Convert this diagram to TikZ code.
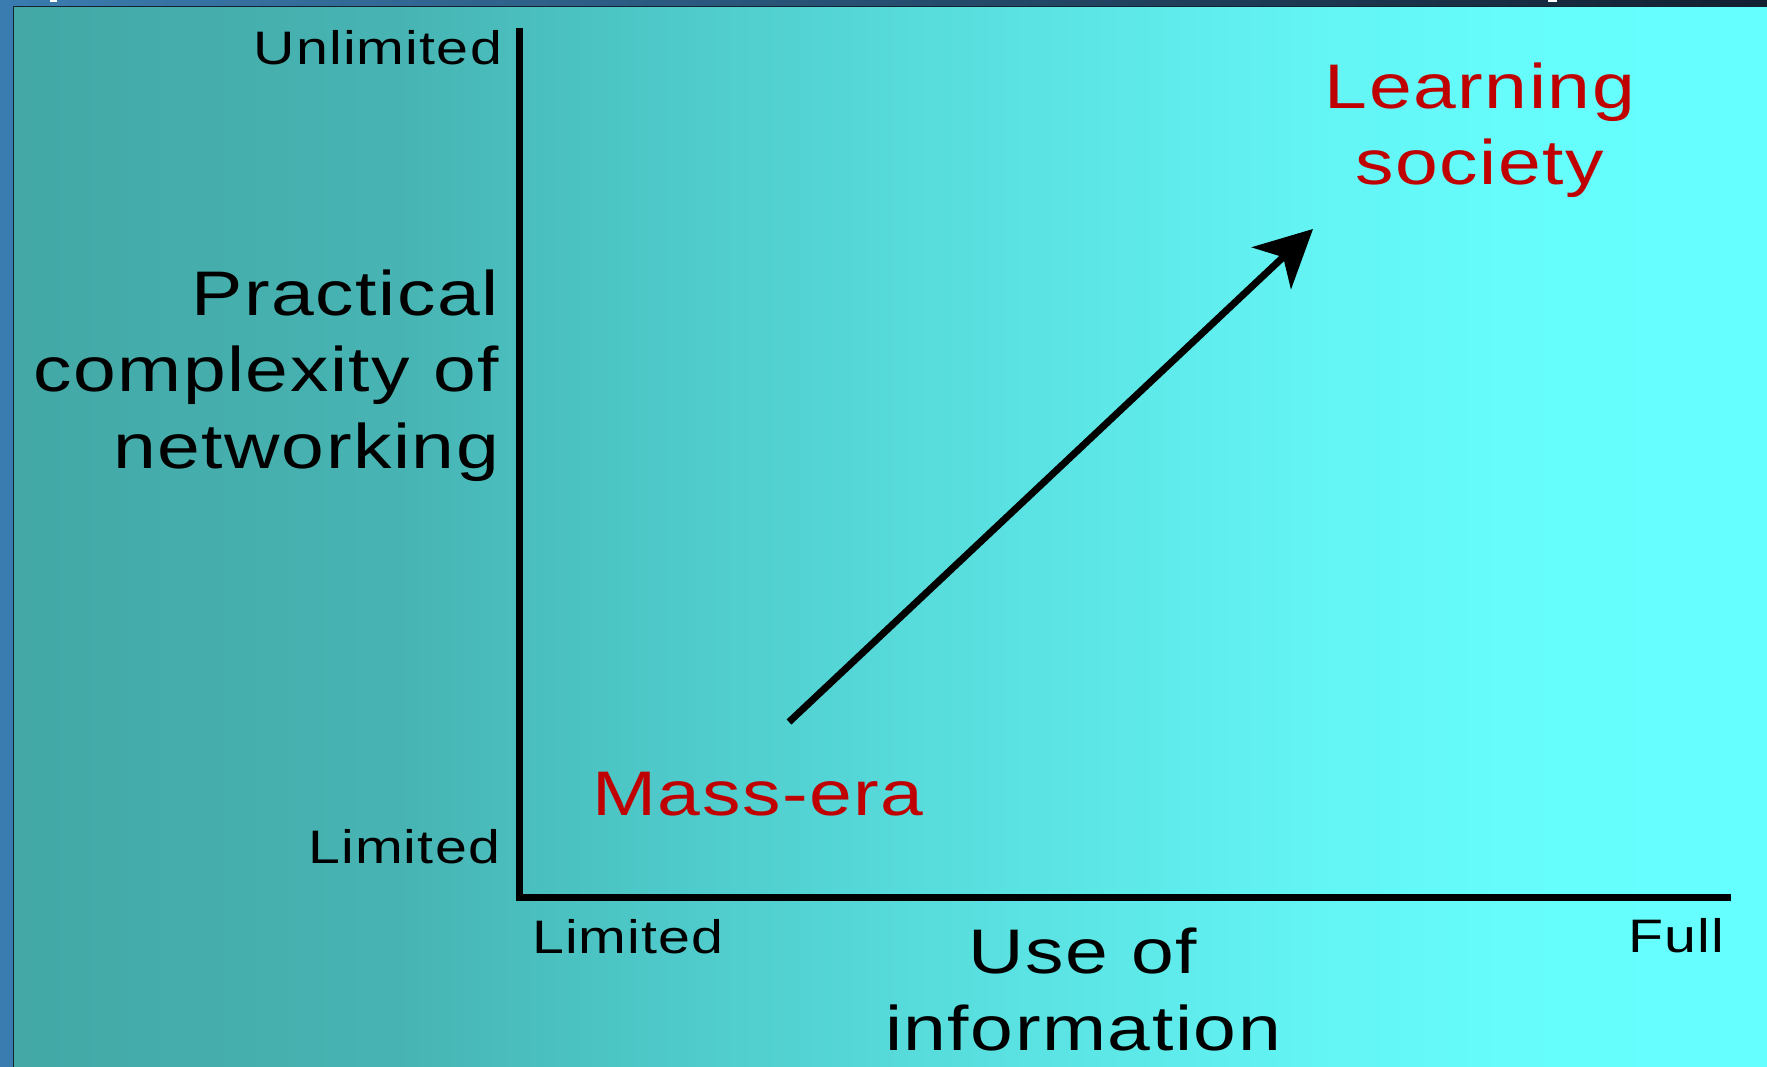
\documentclass[tikz,border=0pt]{standalone}
\usepackage{fontspec}
\setmainfont{Liberation Sans}[FakeStretch=1.22, LetterSpace=2.5]
\usetikzlibrary{arrows.meta}
\definecolor{bgA}{HTML}{43A8A6}
\definecolor{bgB}{HTML}{47B4B3}
\definecolor{bgC}{HTML}{4CC4C4}
\definecolor{bgD}{HTML}{57DADA}
\definecolor{bgE}{HTML}{63F3F3}
\definecolor{bgF}{HTML}{66FCFC}
\definecolor{bgG}{HTML}{66FFFF}
\definecolor{stripblue}{HTML}{3A7CB0}
\definecolor{topdark}{HTML}{122030}
\definecolor{borderdark}{HTML}{14222E}
\definecolor{labelred}{HTML}{C00000}
\pgfdeclarehorizontalshading{bgshade}{100bp}{color(0bp)=(bgA); color(25bp)=(bgA); color(36bp)=(bgB); color(41.7bp)=(bgC); color(50.3bp)=(bgD); color(61.7bp)=(bgE); color(67.4bp)=(bgF); color(75bp)=(bgG); color(100bp)=(bgG)}
\tikzset{
  bigtext/.style={font=\fontsize{63}{76.5}\selectfont, inner sep=0pt, outer sep=0pt},
  smalltext/.style={font=\fontsize{47}{56}\selectfont, inner sep=0pt, outer sep=0pt},
  axisline/.style={line width=7.5pt, line join=miter, black},
  trendarrow/.style={line width=7pt, black, -{Stealth[length=57pt, width=57pt, inset=16pt]}},
}
\begin{document}
\begin{tikzpicture}[x=1pt, y=-1pt]
\useasboundingbox (0,0) rectangle (1767,1067);
% background frame
\fill[stripblue] (0,0) rectangle (13,1067);
\shade[left color=stripblue, right color=topdark] (0,0) rectangle (1767,6);
\fill[white] (50,0) rectangle (57,2.5);
\fill[white] (1548,0) rectangle (1557,2.5);
\shade[shading=bgshade] (13.5,6.5) rectangle (1767,1067);
\draw[borderdark, line width=1.5pt] (13.5,1067) -- (13.5,6.5) -- (1767,6.5);
% axes
\coordinate (ytop) at (519.5,28);
\coordinate (origin) at (519.5,897.5);
\coordinate (xend) at (1731,897.5);
\draw[axisline] (ytop) -- (origin) -- (xend);
% axis labels
\node[smalltext, anchor=base east] (yhigh) at (502,65) {Unlimited};
\node[smalltext, anchor=base east] (ylow) at (500,863) {Limited};
\node[smalltext, anchor=base west] (xlow) at (532,953) {Limited};
\node[smalltext, anchor=base east] (xhigh) at (1724,952) {Full};
\node[bigtext, anchor=base east, align=right] (ytitle) at (499,468) {Practical\\complexity of\\networking};
\node[bigtext, anchor=base, align=center] (xtitle) at (1083,1050) {Use of\\information};
% eras
\node[bigtext, text=labelred, anchor=base, align=center] (learn) at (1480,185) {Learning\\society};
\node[bigtext, text=labelred, anchor=base] (mass) at (758,815) {Mass-era};
\coordinate (astart) at (789,722);
\coordinate (aend) at (1313,229);
\draw[trendarrow] (astart) -- (aend);
\end{tikzpicture}
\end{document}
